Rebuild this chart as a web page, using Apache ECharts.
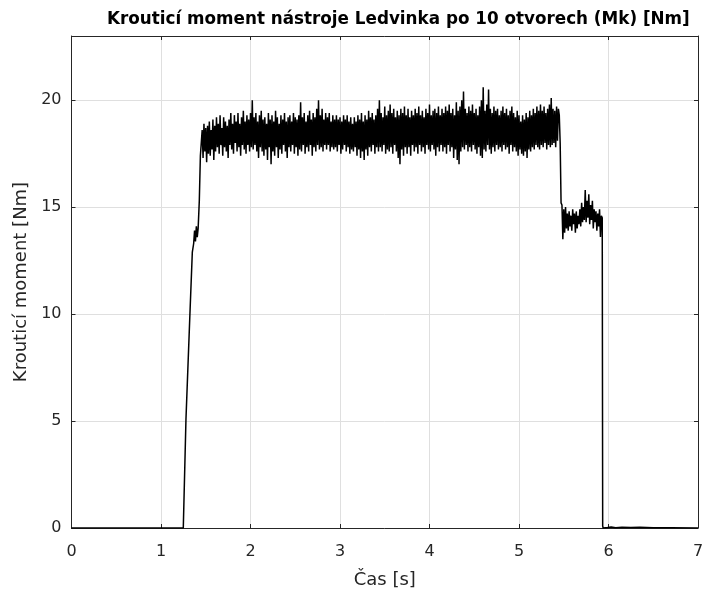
<!DOCTYPE html>
<html>
<head>
<meta charset="utf-8">
<script src="https://cdn.jsdelivr.net/npm/echarts@6/dist/echarts.min.js"></script>
<style>html,body{margin:0;padding:0;background:#fff;}#c{width:703px;height:594px;}</style>
</head>
<body>
<div id="c"></div>
<script>
// ---- data ----
const titleText = 'Krouticí moment nástroje Ledvinka po 10 otvorech (Mk) [Nm]';
const xName = 'Čas [s]';
const yName = 'Krouticí moment [Nm]';
const xTicks = [0, 1, 2, 3, 4, 5, 6, 7];
const yTicks = [0, 5, 10, 15, 20];

const idleTimes = [0, 1.249];
const idleValues = [0, 0];

const riseTimes = [1.279, 1.324, 1.35, 1.365, 1.375, 1.385, 1.395, 1.405, 1.415, 1.428, 1.44];
const riseValues = [5.1, 10.1, 12.9, 13.3, 13.9, 13.4, 14.1, 13.6, 14.0, 15.3, 17.4];

const bandStart = 1.45, bandStep = 0.01;
const bandValues = [
17.4,18.6,17.3,18.9,17.6,18.7,17.1,18.8,17.5,19.0,
17.4,18.6,17.7,19.1,17.2,18.8,17.6,19.2,17.8,18.9,
17.5,19.3,17.9,18.7,17.4,19.2,17.8,19.0,17.6,18.8,
17.3,19.1,17.9,19.4,17.7,18.9,17.5,19.3,18.0,19.0,
17.6,19.4,17.8,18.9,17.4,19.2,17.9,19.5,17.7,19.0,
17.5,19.3,17.9,19.1,17.6,19.4,17.8,20.0,17.7,19.2,
17.9,19.4,17.6,19.0,17.3,19.3,17.8,19.5,17.6,19.1,
17.4,19.2,17.7,18.9,17.2,19.4,17.8,19.1,17.0,19.3,
17.6,19.0,17.4,19.5,17.8,19.2,17.3,18.9,17.7,19.3,
17.5,19.1,17.9,19.4,17.6,19.0,17.3,19.2,17.8,19.3,
17.6,19.0,17.9,19.4,17.5,19.2,17.8,19.1,17.4,19.3,
17.7,19.9,17.6,19.2,17.9,19.4,17.5,19.0,17.8,19.3,
17.6,19.5,17.9,19.1,17.4,19.4,17.8,19.2,17.6,19.6,
17.9,20.0,17.7,19.3,17.8,19.6,17.6,19.1,17.9,19.4,
17.7,19.2,17.9,19.4,17.6,19.0,17.8,19.3,17.7,19.1,
17.8,19.3,17.6,19.1,17.9,19.2,17.5,19.0,17.7,19.3,
17.9,19.1,17.6,19.3,17.8,19.0,17.5,19.2,17.7,18.9,
17.6,19.2,17.8,19.0,17.4,19.3,17.7,19.1,17.3,19.4,
17.6,19.0,17.2,19.3,17.7,19.1,17.4,19.5,17.8,19.2,
17.6,19.4,17.9,19.1,17.5,19.3,17.8,19.6,17.6,20.0,
17.8,19.4,17.6,19.2,17.9,19.7,17.5,19.3,17.7,19.5,
17.6,19.8,17.8,19.4,17.5,19.6,17.9,19.2,17.6,19.5,
17.3,19.3,17.0,19.6,17.7,19.4,17.4,19.7,17.8,19.3,
17.5,19.6,17.8,19.2,17.4,19.5,17.9,19.3,17.6,19.6,
17.8,19.4,17.5,19.7,17.9,19.3,17.6,19.5,17.8,19.2,
17.5,19.6,17.9,19.4,17.7,19.8,17.6,19.3,17.9,19.5,
17.7,19.6,17.4,19.4,17.8,19.7,17.6,19.3,17.9,19.6,
17.6,19.4,17.8,19.7,17.5,19.5,17.9,19.8,17.6,19.4,
17.8,19.6,17.3,19.3,17.7,19.9,17.2,19.5,17.0,19.7,
17.6,20.0,17.8,20.4,17.7,19.6,17.9,19.4,17.6,19.7,
17.8,19.5,17.6,19.8,17.9,19.4,17.7,19.6,17.5,19.3,
17.8,19.7,17.4,20.0,17.3,20.6,17.7,19.5,17.6,19.8,
17.9,20.5,17.7,19.6,17.5,19.4,17.8,19.7,17.6,19.5,
17.9,19.6,17.7,19.3,17.8,19.5,17.6,19.7,17.9,19.4,
17.7,19.6,17.8,19.3,17.5,19.5,17.9,19.7,17.6,19.4,
17.8,19.2,17.6,19.5,17.4,19.3,17.7,19.0,17.5,19.3,
17.4,19.1,17.6,19.4,17.3,19.2,17.7,19.5,17.6,19.3,
17.8,19.6,17.7,19.4,17.9,19.7,17.8,19.5,17.7,19.8,
17.9,19.5,17.8,19.7,18.0,19.4,17.7,19.6,17.9,19.8,
17.8,20.1,17.9,19.6,18.0,19.5,17.8,19.7,18.1,19.6
];

const dropTimes = [5.45, 5.46, 5.47];
const dropValues = [19.3, 18.0, 15.2];

const lowStart = 5.48, lowStep = 0.01;
const lowValues = [
15.1,13.5,14.9,13.8,15.0,14.0,14.7,13.9,14.8,14.1,
14.6,13.9,14.9,14.2,14.7,13.8,14.8,14.0,14.6,14.2,
14.9,14.1,15.2,14.3,15.0,14.4,15.8,14.3,15.3,14.5,
15.6,14.2,15.1,14.4,15.3,14.0,14.9,14.3,14.8,13.9,
14.7,14.1,14.9,13.6,14.6,14.5
];

const tailTimes = [5.935, 5.94, 5.96, 5.99, 6.03, 6.08, 6.15, 6.25, 6.35, 6.5, 6.7, 7.0];
const tailValues = [0.1, 0.0, 0.08, 0.02, 0.05, 0.01, 0.04, 0.02, 0.03, 0.01, 0.01, 0.0];

// ---- build series ----
const points = [];
idleTimes.forEach((t, i) => points.push([t, idleValues[i]]));
riseTimes.forEach((t, i) => points.push([t, riseValues[i]]));
bandValues.forEach((v, i) => points.push([+(bandStart + i * bandStep).toFixed(3), v]));
dropTimes.forEach((t, i) => points.push([t, dropValues[i]]));
lowValues.forEach((v, i) => points.push([+(lowStart + i * lowStep).toFixed(3), v]));
tailTimes.forEach((t, i) => points.push([t, tailValues[i]]));

const txt = '#262626';
const font = '"DejaVu Sans", Verdana, sans-serif';

const chart = echarts.init(document.getElementById('c'), null, { renderer: 'canvas' });
chart.setOption({
  animation: false,
  backgroundColor: '#ffffff',
  textStyle: { fontFamily: font },
  title: {
    text: titleText,
    left: 102, top: 6,
    textStyle: { fontSize: 16.8, fontWeight: 'bold', color: '#000', fontFamily: font }
  },
  grid: { left: 71.5, right: 5, top: 36, bottom: 66, outerBoundsMode: 'none', containLabel: false },
  xAxis: [{
    type: 'value', min: xTicks[0], max: xTicks[xTicks.length - 1], interval: 1,
    name: xName, nameLocation: 'middle', nameGap: 43,
    nameTextStyle: { fontSize: 18, color: txt, fontFamily: font },
    axisLine: { show: true, onZero: false, lineStyle: { color: txt, width: 1 } },
    axisTick: { show: true, inside: true, length: 4, lineStyle: { color: txt } },
    axisLabel: { fontSize: 16, color: txt, margin: 16, fontFamily: font },
    splitLine: { show: true, lineStyle: { color: '#dfdfdf', width: 1 } }
  }, {
    type: 'value', position: 'top', min: xTicks[0], max: xTicks[xTicks.length - 1], interval: 1,
    axisLine: { show: true, onZero: false, lineStyle: { color: txt, width: 1 } },
    axisTick: { show: true, inside: true, length: 4, lineStyle: { color: txt } },
    axisLabel: { show: false }, splitLine: { show: false }
  }],
  yAxis: [{
    type: 'value', min: 0, max: 23, interval: 5,
    name: yName, nameLocation: 'middle', nameGap: 37, nameRotate: 90,
    nameTextStyle: { fontSize: 18, color: txt, fontFamily: font },
    axisLine: { show: true, onZero: false, lineStyle: { color: txt, width: 1 } },
    axisTick: { show: true, inside: true, length: 4, lineStyle: { color: txt } },
    axisLabel: { fontSize: 16, color: txt, margin: 10, fontFamily: font, showMaxLabel: false,
      formatter: v => (yTicks.indexOf(v) >= 0 ? String(v) : '') },
    splitLine: { show: true, lineStyle: { color: '#dfdfdf', width: 1 } }
  }, {
    type: 'value', position: 'right', min: 0, max: 23, interval: 5,
    axisLine: { show: true, onZero: false, lineStyle: { color: txt, width: 1 } },
    axisTick: { show: true, inside: true, length: 4, lineStyle: { color: txt } },
    axisLabel: { show: false }, splitLine: { show: false }
  }],
  series: [{
    type: 'line', xAxisIndex: 0, yAxisIndex: 0,
    data: points, showSymbol: false, symbol: 'none', sampling: null,
    lineStyle: { color: '#000', width: 1.5 }, silent: true, z: 3
  }]
});
</script>
</body>
</html>
